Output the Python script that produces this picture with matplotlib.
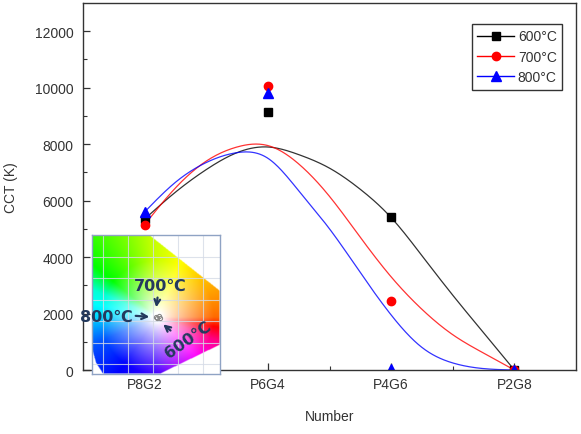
import numpy as np
import matplotlib
matplotlib.use('Agg')
import matplotlib.pyplot as plt
from matplotlib.lines import Line2D
from matplotlib.path import Path
from matplotlib.colors import hsv_to_rgb

plt.rcParams['font.family'] = ['Liberation Sans', 'DejaVu Sans']

# measured points
samples = ['P8G2', 'P6G4', 'P4G6', 'P2G8']
cct_600 = [5350, 9150, 5420, 0]
cct_700 = [5150, 10050, 2430, 0]
cct_800 = [5600, 9800, 50, 0]

# fitted curves
fit_x = [1.0, 1.25, 1.5, 1.75, 2.0, 2.25, 2.5, 2.75, 3.0, 3.25, 3.5, 3.75, 4.0]
fit_600 = [5350, 6300, 7100, 7700, 7900, 7630, 7150, 6400, 5400, 4050, 2650, 1320, 0]
fit_700 = [5150, 6450, 7400, 7900, 7950, 7300, 6150, 4700, 3300, 2150, 1250, 600, 0]
fit_800 = [5600, 6650, 7350, 7700, 7500, 6350, 5000, 3450, 1950, 800, 250, 50, 0]

# colour points in the inset (inset fraction coords)
cie_u = [0.50, 0.52, 0.51, 0.53]
cie_v = [0.41, 0.42, 0.40, 0.405]


def spline(xk, yk, xs):
    xk = np.asarray(xk, float); yk = np.asarray(yk, float)
    n = len(xk); h = np.diff(xk)
    A = np.zeros((n, n)); r = np.zeros(n)
    A[0, 0] = A[-1, -1] = 1
    for i in range(1, n - 1):
        A[i, i - 1] = h[i - 1]; A[i, i] = 2 * (h[i - 1] + h[i]); A[i, i + 1] = h[i]
        r[i] = 6 * ((yk[i + 1] - yk[i]) / h[i] - (yk[i] - yk[i - 1]) / h[i - 1])
    m = np.linalg.solve(A, r)
    j = np.clip(np.searchsorted(xk, xs) - 1, 0, n - 2)
    t = xs - xk[j]; hj = h[j]
    a = yk[j]; b = (yk[j + 1] - yk[j]) / hj - hj * (2 * m[j] + m[j + 1]) / 6
    return a + b * t + m[j] / 2 * t ** 2 + (m[j + 1] - m[j]) / (6 * hj) * t ** 3


fig = plt.figure(figsize=(5.81, 4.35), dpi=100)
ax = fig.add_axes([0.1429, 0.1471, 0.8485, 0.8437])

x = np.arange(1, len(samples) + 1)
xs = np.linspace(1, 4, 300)
for fy, c in [(fit_600, 'black'), (fit_700, 'red'), (fit_800, 'blue')]:
    ax.plot(xs, spline(fit_x, fy, xs), color=c, lw=0.9, alpha=0.8)

ax.plot(x, cct_600, 's', color='black', ms=6, ls='none')
ax.plot(x, cct_700, 'o', color='red', ms=6, ls='none')
ax.plot(x, cct_800, '^', color='blue', ms=7, ls='none')

ax.set_xlim(0.5, 4.5)
ax.set_ylim(0, 13000)
ax.set_xticks(x)
ax.set_xticklabels(samples)
ax.set_xticks(x[:-1] + 0.5, minor=True)
ax.set_yticks(np.arange(0, 12001, 2000))
ax.set_yticks(np.arange(1000, 13000, 2000), minor=True)
ax.tick_params(direction='in', length=5, width=0.9, labelsize=10,
               labelcolor='#333333', color='#333333')
ax.tick_params(which='minor', direction='in', length=3, width=0.8, color='#333333')
ax.tick_params(axis='y', pad=7)
ax.tick_params(axis='x', pad=5)
for s in ax.spines.values():
    s.set_color('#333333')
    s.set_linewidth(1.0)
ax.set_xlabel('Number', fontsize=10, color='#333333', labelpad=13)
ax.set_ylabel('CCT (K)', fontsize=10, color='#333333', labelpad=12)

handles = [Line2D([], [], color='black', marker='s', ms=6, lw=1),
           Line2D([], [], color='red', marker='o', ms=6, lw=1),
           Line2D([], [], color='blue', marker='^', ms=7, lw=1)]
leg = ax.legend(handles, ['600°C', '700°C', '800°C'], loc='upper right',
                bbox_to_anchor=(0.972, 0.943), borderaxespad=0, fancybox=False,
                edgecolor='black', fontsize=10, handlelength=2.6,
                labelspacing=0.45, handletextpad=0.3, borderpad=0.4)
leg.get_frame().set_linewidth(1.0)
for t in leg.get_texts():
    t.set_color('#333333')

# inset chromaticity picture
ins = fig.add_axes([0.1583, 0.1379, 0.2203, 0.3195])
ins.set_xlim(0, 1); ins.set_ylim(0, 1)
ins.set_xticks([]); ins.set_yticks([])
for s in ins.spines.values():
    s.set_color('#8fa3c4')
    s.set_linewidth(1.0)

nu, nv = 256, 278
uu, vv = np.meshgrid(np.linspace(0, 1, nu), np.linspace(0, 1, nv))
dx = (uu - 0.51) * 128
dy = (vv - 0.41) * 139
th = np.degrees(np.arctan2(dy, dx)) % 360
hue = np.interp(th, [0, 58, 95, 141, 157, 180, 203, 235, 268, 293, 320, 339, 360],
                [25, 55, 75, 120, 170, 190, 220, 240, 255, 280, 305, 330, 385]) % 360
rr = np.hypot(dx, dy)
sat = np.clip((rr - 5) / 52, 0, 1) ** 0.85
rgb = hsv_to_rgb(np.dstack([hue / 360, sat, np.ones_like(sat)]))
poly = Path([(0, 1), (0.45, 1), (1, 0.60), (1, 0.21), (0.53, 0), (0.086, 0),
             (0.03, 0.08), (0, 0.18)])
inside = poly.contains_points(np.c_[uu.ravel(), vv.ravel()]).reshape(uu.shape)
img = np.dstack([rgb, inside.astype(float)])
ins.imshow(img, extent=[0, 1, 0, 1], origin='lower', aspect='auto', interpolation='bilinear')
for gu in np.arange(0.086, 1, 25 / 128):
    ins.axvline(gu, color='#d5dbe6', lw=0.8, alpha=0.8)
for gv in np.arange(0.072, 1, 21.5 / 139):
    ins.axhline(gv, color='#d5dbe6', lw=0.8, alpha=0.8)
ins.plot(cie_u, cie_v, 'o', ms=3, mfc='none', mec='#888888', mew=0.8)

navy = '#243a5e'
tk = dict(color=navy, fontsize=11.5, fontweight='bold', family=['DejaVu Sans'],
          clip_on=False, ha='center', va='center')
ins.text(0.53, 0.64, '700℃', **tk)
ins.text(0.11, 0.415, '800℃', **tk)
ins.text(0.75, 0.25, '600℃', rotation=35, **tk)
ap = dict(arrowstyle='->', color=navy, lw=1.6, mutation_scale=10)
ins.annotate('', xy=(0.50, 0.46), xytext=(0.515, 0.57), arrowprops=ap)
ins.annotate('', xy=(0.47, 0.41), xytext=(0.32, 0.42), arrowprops=ap)
ins.annotate('', xy=(0.54, 0.37), xytext=(0.63, 0.30), arrowprops=ap)

fig.savefig('out.png', dpi=100)
